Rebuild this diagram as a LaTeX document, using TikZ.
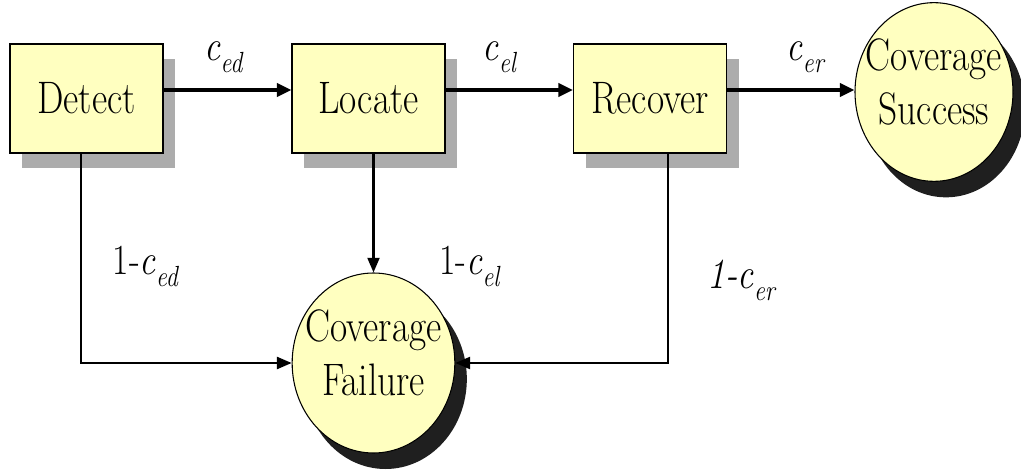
\documentclass[tikz,border=0pt]{standalone}
\usepackage{fontspec}
\usetikzlibrary{shapes.geometric,shadows,arrows.meta}
\definecolor{boxfill}{RGB}{255,255,192}
\newcommand{\tall}[1]{\scalebox{1.0}[1.22]{#1}}
\newcommand{\lbltall}[1]{\scalebox{0.95}[1.15]{#1}}
\newcommand{\sub}[1]{\raisebox{-0.28em}{\fontsize{19}{19}\selectfont\textit{#1}}}
\newcommand{\twolines}[2]{\raisebox{-0.22em}{\makebox[0pt]{\smash{\begin{tabular}{@{}c@{}}\tall{#1}\\[8pt]\tall{#2}\end{tabular}}}}}
\tikzset{
  stepbox/.style={draw=black, line width=0.8pt, fill=boxfill, minimum width=114.75pt, minimum height=81.75pt, inner sep=0pt,
    font=\fontsize{28}{30}\selectfont,
    drop shadow={shadow xshift=9pt, shadow yshift=-11.25pt, fill=gray!65, opacity=1}},
  endstate/.style={ellipse, draw=black, line width=0.8pt, fill=boxfill, inner sep=0pt,
    font=\fontsize{28}{30}\selectfont,
    drop shadow={shadow xshift=9pt, shadow yshift=-12pt, fill=black!88, opacity=1}},
  lbl/.style={inner sep=0pt, font=\fontsize{28}{30}\selectfont},
  mainarrow/.style={line width=2.5pt, -{Triangle[length=11pt,width=10pt]}},
  failarrow/.style={line width=1.6pt, -{Triangle[length=11pt,width=9pt]}},
}
\begin{document}
\begin{tikzpicture}[x=0.75pt,y=-0.75pt]
\useasboundingbox (0,0) rectangle (1021,470);
\node[stepbox] (detect) at (86.5,98.5) {\tall{Detect}};
\node[stepbox] (locate) at (368.5,98.5) {\tall{Locate}};
\node[stepbox] (recover) at (650,98.5) {\tall{Recover}};
\node[endstate, minimum width=118.5pt, minimum height=134pt] (succ) at (934,92) {\twolines{Coverage}{Success}};
\node[endstate, minimum width=122pt, minimum height=135pt] (fail) at (373.5,363) {\twolines{Coverage}{Failure}};
\coordinate (row) at (0,90);
\coordinate (dx) at (81,0);
\coordinate (rx) at (668,0);
\draw[mainarrow] (detect.east |- row) -- (locate.west |- row);
\draw[mainarrow] (locate.east |- row) -- (recover.west |- row);
\draw[mainarrow] (recover.east |- row) -- (succ.west |- row);
\draw[failarrow] (detect.south -| dx) |- (fail.west);
\draw[failarrow] (locate.south -| fail.north) -- (fail.north);
\draw[failarrow] (recover.south -| rx) |- (fail.east);
\node[lbl] (l1) at (224,57) {\lbltall{\textit{c}\sub{ed}}};
\node[lbl] (l2) at (500,57) {\lbltall{\textit{c}\sub{el}}};
\node[lbl] (l3) at (806,57) {\lbltall{\textit{c}\sub{er}}};
\node[lbl] (l4) at (146,266) {\lbltall{1-\textit{c}\sub{ed}}};
\node[lbl] (l5) at (470,266) {\lbltall{1-\textit{c}\sub{el}}};
\node[lbl] (l6) at (742,280) {\lbltall{\textit{1-c}\sub{er}}};
\end{tikzpicture}
\end{document}
